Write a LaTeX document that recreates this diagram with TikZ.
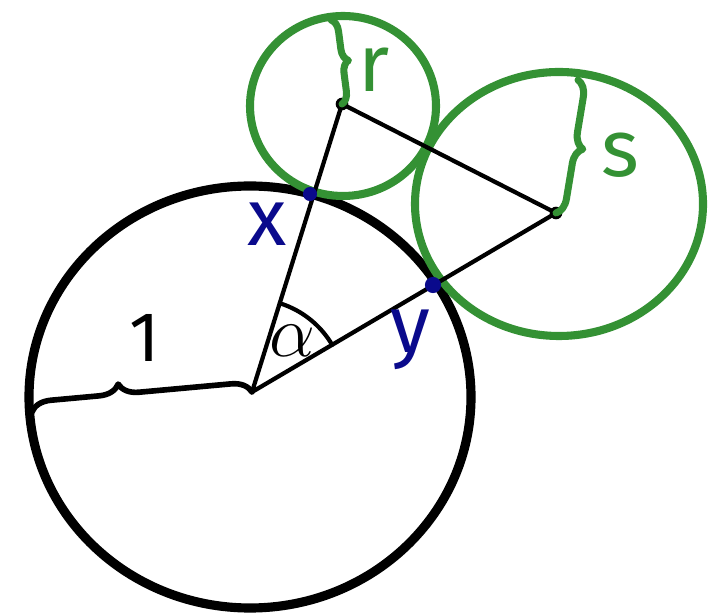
\documentclass[tikz,border=0pt]{standalone}
\usepackage{fontspec}
\setsansfont{Fira Sans}
\usetikzlibrary{angles,quotes,calc,decorations.pathreplacing}
\definecolor{PenGreen}{RGB}{52,145,52}
\definecolor{PenBlue}{RGB}{10,10,140}
\tikzset{
  pen/.style={line width=1.2pt,line cap=round,line join=round},
  hand/.style={font=\sffamily\fontsize{23}{27}\selectfont},
  curly/.style 2 args={pen,decorate,decoration={brace,amplitude=#1,aspect=#2}}
}

\begin{document}
\begin{tikzpicture}[x=1cm,y=1cm]
  \useasboundingbox (0,0) rectangle (7.08,-6.13);
  \coordinate (O) at (2.52,-3.92);
  \coordinate (P) at (3.42,-1.04);
  \coordinate (Q) at (5.56,-2.13);
  \coordinate (L) at (0.32,-4.12);
  % circles
  \draw[line width=2.6pt] (2.50,-3.97) ellipse [x radius=2.21,y radius=2.11];
  \draw[line width=2.3pt,PenGreen] (3.43,-1.06) ellipse [x radius=0.93,y radius=0.90];
  \draw[line width=2.3pt,PenGreen] (5.59,-2.04) ellipse [x radius=1.44,y radius=1.32];
  % triangle
  \draw[pen] (O)--(P)--(Q)--cycle;
  \fill (P) circle (1.8pt) (Q) circle (1.8pt);
  \fill[PenBlue] (3.10,-1.94) circle (2pt) (4.33,-2.85) circle (2.3pt);
  % radii
  \draw[curly={0.2cm}{0.4},line width=1.6pt] (L)--(O);
  \draw[curly={0.12cm}{0.5},PenGreen,line width=2pt] (3.31,-0.20)--(P);
  \draw[curly={0.16cm}{0.5},PenGreen,line width=2pt] (5.78,-0.80)--(Q);
  \draw pic[pen,draw,angle radius=9.3mm,angle eccentricity=0.7,
    "$\alpha$",font=\fontsize{20}{24}\selectfont] {angle=Q--O--P};
  % labels
  \node[hand,font=\sffamily\fontsize{20}{24}\selectfont] (one) at (1.45,-3.38) {1};
  \node[hand,PenBlue] (xl) at (2.67,-2.24) {x};
  \node[hand,PenBlue] (yl) at (4.10,-3.40) {y};
  \node[hand,PenGreen] (rl) at (3.74,-0.70) {r};
  \node[hand,PenGreen] (sl) at (6.20,-1.55) {s};
\end{tikzpicture}
\end{document}
